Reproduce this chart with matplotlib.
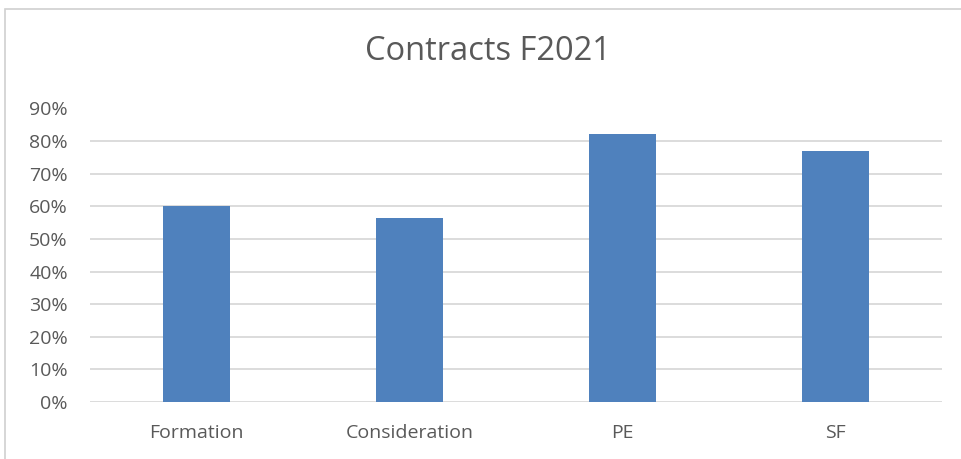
import matplotlib
matplotlib.use("Agg")
import matplotlib.pyplot as plt
from matplotlib.patches import Rectangle
from matplotlib.ticker import PercentFormatter

categories = ["Formation", "Consideration", "PE", "SF"]
values = [0.60, 0.565, 0.822, 0.771]
yticks = [0.0, 0.1, 0.2, 0.3, 0.4, 0.5, 0.6, 0.7, 0.8, 0.9]

W, H = 961, 459
plt.rcParams["font.family"] = ["Open Sans", "DejaVu Sans"]
text_col = "#595959"
grid_col = "#D9D9D9"

fig = plt.figure(figsize=(W / 100, H / 100), dpi=100, facecolor="white")

# chart frame (runs off the right/bottom edges like the screenshot)
fig.patches.append(Rectangle((5 / W, -0.1), 1.1, (H - 9) / H + 0.1,
                             transform=fig.transFigure, fill=False,
                             edgecolor="#D0D0D0", lw=1.2))

ax = fig.add_axes([90 / W, (H - 402) / H, 852 / W, 293.5 / H])
x = range(len(categories))
ax.bar(x, values, width=0.313, color="#4F81BD", zorder=3)

ax.set_xlim(-0.5, len(categories) - 0.5)
ax.set_ylim(0, 0.9)
ax.set_yticks(yticks)
ax.yaxis.set_major_formatter(PercentFormatter(1.0, decimals=0))
ax.set_xticks(list(x))
ax.set_xticklabels(categories)
ax.grid(axis="y", color=grid_col, lw=1.3, zorder=0)
for s in ax.spines.values():
    s.set_visible(False)
ax.tick_params(axis="both", length=0, colors=text_col, labelsize=14)
ax.tick_params(axis="y", pad=16)
ax.tick_params(axis="x", pad=16)

fig.text(488 / W, 1 - 52 / H, "Contracts F2021", ha="center", va="center",
         fontsize=23.5, color=text_col)

fig.savefig("out.png", dpi=100, facecolor="white")
